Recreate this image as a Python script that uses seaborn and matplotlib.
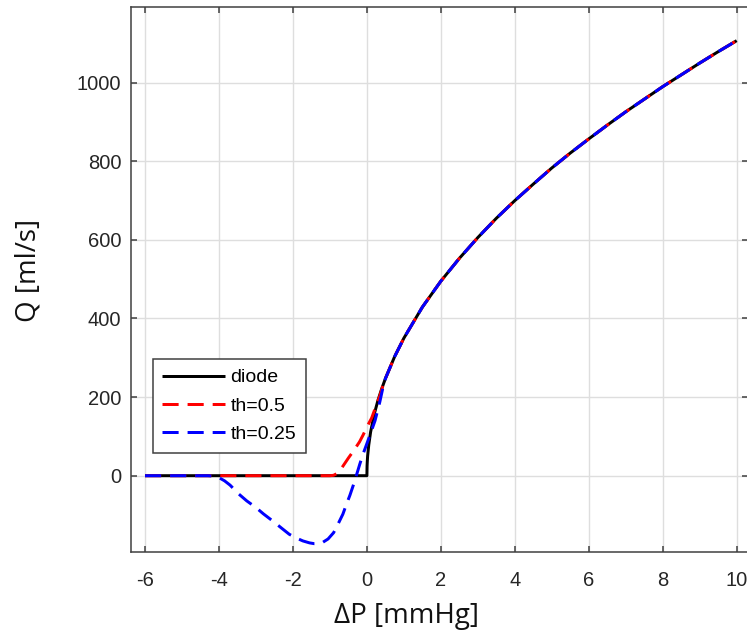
import matplotlib
matplotlib.use("Agg")
import matplotlib.pyplot as plt
import seaborn as sns
import pandas as pd

# ---- data ----
# shared rising branch (all three curves coincide for dP >= 0.5)
dp_common = [0.5, 0.75, 1.0, 1.5, 2.0, 2.5, 3.0, 3.5, 4.0, 4.5, 5.0, 5.5,
             6.0, 6.5, 7.0, 7.5, 8.0, 8.5, 9.0, 9.5, 10.0]
q_common = [247, 303, 350, 429, 495, 553, 606, 655, 700, 742, 783, 821,
            857, 892, 926, 958, 990, 1020, 1050, 1079, 1107]

# diode
dp_diode = [-6.0, 0.0, 0.005, 0.01, 0.02, 0.05, 0.1, 0.2, 0.3, 0.4]
q_diode = [0, 0, 25, 35, 50, 78, 111, 157, 192, 221]

# th = 0.5
dp_th05 = [-6.0, -1.0, -0.9, -0.8, -0.7, -0.6, -0.5, -0.37, -0.2, -0.1,
           0.0, 0.13, 0.25, 0.35, 0.42]
q_th05 = [0, 0, 1, 6, 17, 31, 45, 62, 86, 104,
          124, 147, 178, 203, 225]

# th = 0.25
dp_th025 = [-6.0, -4.3, -4.15, -4.0, -3.85, -3.7, -3.46, -3.25, -3.0, -2.8,
            -2.55, -2.3, -2.1, -1.9, -1.73, -1.55, -1.42, -1.3, -1.2, -1.05,
            -0.9, -0.78, -0.65, -0.55, -0.46, -0.37, -0.28, -0.19, -0.1, 0.04,
            0.22, 0.35, 0.44]
q_th025 = [0, 0, -1, -5, -13, -24, -47, -64, -81, -97,
           -115, -134, -149, -159, -166, -171, -173, -173, -170, -161,
           -145, -123, -98, -72, -50, -25, 2, 30, 56, 92,
           140, 188, 227]

labels = ["diode", "th=0.5", "th=0.25"]
x_ticks = [-6, -4, -2, 0, 2, 4, 6, 8, 10]
y_ticks = [0, 200, 400, 600, 800, 1000]

# ---- style ----
sns.set_theme(style="ticks")
plt.rcParams["font.family"] = ["Liberation Sans", "DejaVu Sans"]

fig = plt.figure(figsize=(7.47, 6.37), dpi=100)
ax = fig.add_axes([131 / 747, (637 - 551.7) / 637, 617 / 747, 545 / 637])

series = [
    (dp_diode + dp_common, q_diode + q_common, "black", "-", labels[0]),
    (dp_th05 + dp_common, q_th05 + q_common, "#ff0000", "--", labels[1]),
    (dp_th025 + dp_common, q_th025 + q_common, "#0000ff", "--", labels[2]),
]
for xs, ys, col, ls, lab in series:
    df = pd.DataFrame({"dP": xs, "Q": ys})
    sns.lineplot(data=df, x="dP", y="Q", ax=ax, color=col, linewidth=2.15,
                 estimator=None, sort=False, label=lab)
    line = ax.get_lines()[-1]
    if ls == "--":
        line.set_dashes((5.4, 3.0))
    line.set_solid_capstyle("butt")
    line.set_dash_capstyle("butt")
    line.set_solid_joinstyle("round")
    line.set_dash_joinstyle("round")

ax.set_xlim(-6.379, 10.306)
ax.set_ylim(-193.4, 1193.4)
ax.set_xticks(x_ticks)
ax.set_yticks(y_ticks)
ax.set_xticklabels([str(t) for t in x_ticks])
ax.set_yticklabels([str(t) for t in y_ticks])

ax.grid(True, color="#dedede", linewidth=1.0)
ax.set_axisbelow(True)
for s in ax.spines.values():
    s.set_color("#404040")
    s.set_linewidth(1.1)
ax.tick_params(axis="both", direction="in", length=4, width=1.1, color="#404040",
               labelsize=14.5, labelcolor="#262626", top=True, right=True)
ax.tick_params(axis="x", pad=14)
ax.tick_params(axis="y", pad=7)

ax.set_xlabel("ΔP [mmHg]", fontsize=20, family=["Open Sans", "DejaVu Sans"], color="#111111")
ax.set_ylabel("Q [ml/s]", fontsize=20, family=["Open Sans", "DejaVu Sans"], color="#111111")
ax.xaxis.label.set_va("center")
ax.xaxis.set_label_coords((406.5 - 131) / 617, (551.7 - 616) / 545)
ax.yaxis.label.set_va("center")
ax.yaxis.set_label_coords((28.5 - 131) / 617, (551.7 - 270) / 545)

leg = ax.legend(loc="lower left", bbox_to_anchor=((152.7 - 131) / 617, (551.7 - 452.7) / 545),
                borderaxespad=0, fontsize=14, handlelength=3.2, handletextpad=0.3,
                borderpad=0.5, labelspacing=0.55, fancybox=False, framealpha=1,
                edgecolor="#404040")
leg.get_frame().set_linewidth(1.1)
for t in leg.get_texts():
    t.set_color("black")

fig.savefig("out.png", dpi=100)
